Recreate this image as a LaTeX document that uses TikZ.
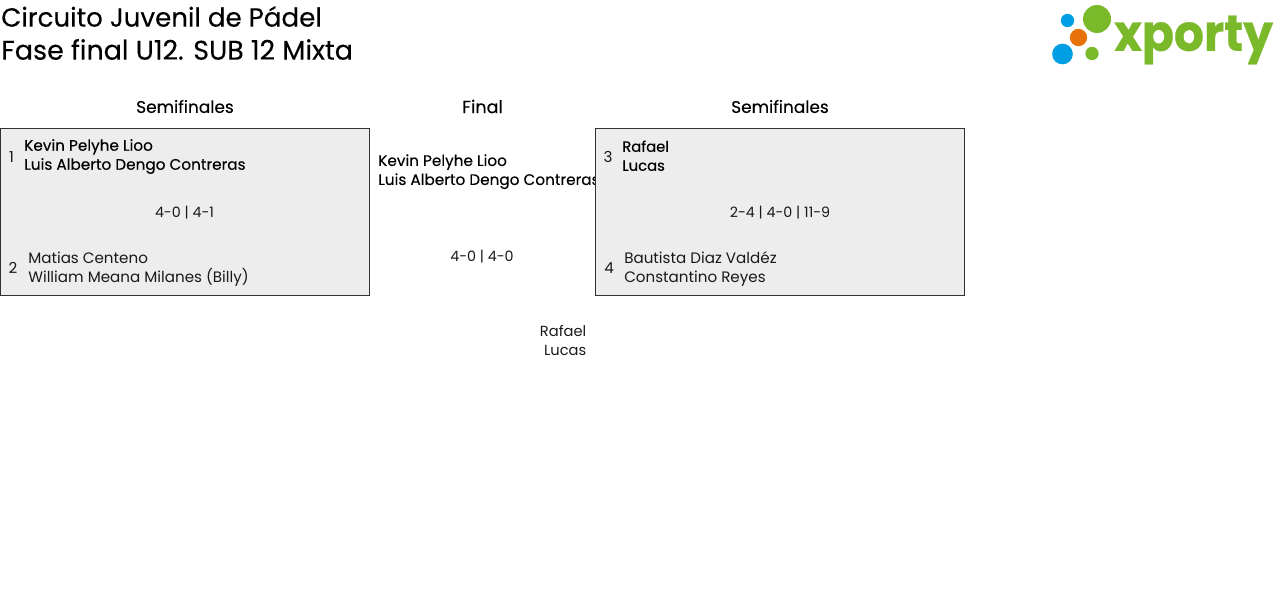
\documentclass[tikz,border=0pt]{standalone}
\usepackage{fontspec}
\setmainfont{Poppins}
\newfontfamily\medfont[FakeBold=0.25]{Poppins}
\newfontfamily\logofont[FakeBold=0.6]{Poppins Bold}
\definecolor{boxfill}{HTML}{EDEDED}
\definecolor{logogreen}{HTML}{7AB929}
\definecolor{logoblue}{HTML}{009FE3}
\definecolor{logoorange}{HTML}{E8710A}
\tikzset{
  px/.style={x=0.75pt,y=-0.75pt},
  groupbox/.style={draw=black!80,fill=boxfill,line width=0.6pt,outer sep=0pt,minimum width=276.75pt,minimum height=125.25pt,anchor=north west,inner sep=0pt},
  lbl/.style={inner sep=0pt,font=\fontsize{11.35}{14.25}\selectfont,text=black!90},
  score/.style={lbl,font=\fontsize{10.7}{14.25}\selectfont},
  lblleft/.style={lbl,align=left,anchor=west},
  lblbold/.style={lblleft,font=\fontsize{11.45}{14.25}\medfont,text=black},
  heading/.style={inner sep=0pt,font=\fontsize{12.7}{16}\medfont},
  titletext/.style={inner sep=0pt,anchor=west,font=\fontsize{19.6}{24}\medfont},
  dot/.style={circle,inner sep=0pt,draw=none}
}
\begin{document}
\begin{tikzpicture}[px]
\useasboundingbox (0,0) rectangle (1280,613);
\node[titletext] (t1) at (1,16.5) {Circuito Juvenil de Pádel};
\node[titletext,font=\fontsize{20.2}{24}\medfont] (t2) at (1,49.5) {Fase final U12. SUB 12 Mixta};
% logo
\node[dot,fill=logogreen,minimum size=21pt] (d1) at (1097,19) {};
\node[dot,fill=logoblue,minimum size=10pt] (d2) at (1067.5,20.5) {};
\node[dot,fill=logoorange,minimum size=13pt] (d3) at (1078.5,37.5) {};
\node[dot,fill=logoblue,minimum size=15.5pt] (d4) at (1062.5,54) {};
\node[dot,fill=logogreen,minimum size=10pt] (d5) at (1092,53.5) {};
\node[inner sep=0pt,anchor=west,text=logogreen,xscale=0.93,font=\fontsize{38}{40}\logofont] (logo) at (1114,40) {xporty};
% headings
\node[heading] (h1) at (185,106.5) {Semifinales};
\node[heading,font=\fontsize{13.2}{16}\medfont] (h2) at (482.5,106.5) {Final};
\node[heading] (h3) at (780,106.5) {Semifinales};
% left box
\node[groupbox] (b1) at (0.5,128.5) {};
\node[lbl] (n1) at (11.5,157) {1};
\node[lblbold] (p1) at (24,156.5) {Kevin Pelyhe Lioo\\Luis Alberto Dengo Contreras};
\node[score] (s1) at (184.5,212.7) {4-0 | 4-1};
\node[lbl] (n2) at (13,268) {2};
\node[lblleft] (p2) at (28,269.5) {Matias Centeno\\William Meana Milanes (Billy)};
% final
\node[lblbold] (f1) at (378,171.7) {Kevin Pelyhe Lioo\\Luis Alberto Dengo Contreras};
\node[score] (s2) at (482,256.7) {4-0 | 4-0};
\node[lbl,align=right,anchor=east,font=\fontsize{11}{14.25}\selectfont] (f2) at (586.5,340.5) {Rafael\\Lucas};
% right box
\node[groupbox] (b2) at (595.5,128.5) {};
\node[lbl] (n3) at (608,157) {3};
\node[lblbold,font=\fontsize{11.1}{14.25}\medfont] (p3) at (622,155.7) {Rafael\\Lucas};
\node[score] (s3) at (780,212.7) {2-4 | 4-0 | 11-9};
\node[lbl] (n4) at (609,268) {4};
\node[lblleft] (p4) at (624,269.5) {Bautista Diaz Valdéz\\Constantino Reyes};
\end{tikzpicture}
\end{document}
